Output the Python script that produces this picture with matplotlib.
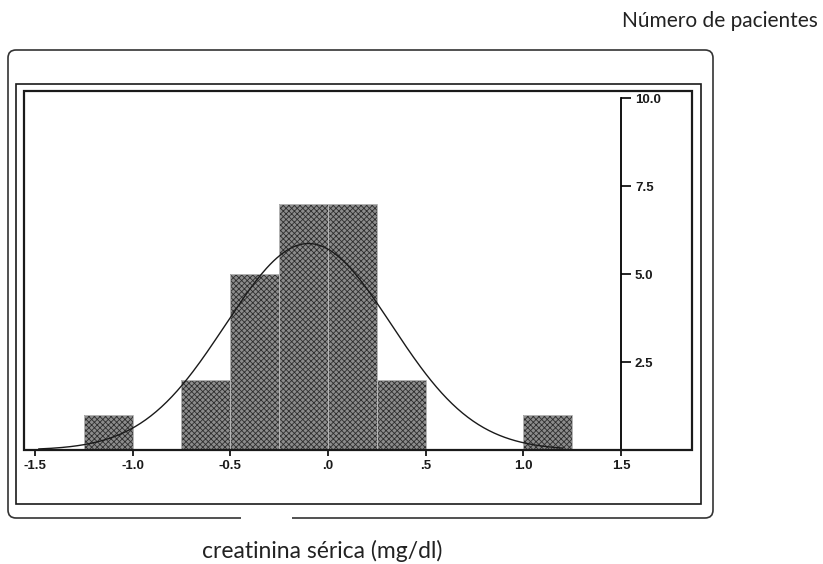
import matplotlib.pyplot as plt
import numpy as np
from matplotlib.patches import Rectangle, FancyBboxPatch

# histogram bins (creatinina serica, mg/dl) and patient counts
bin_left = [-1.25, -0.75, -0.5, -0.25, 0.0, 0.25, 1.0]
counts = [1, 2, 5, 7, 7, 2, 1]
bin_width = 0.25

# fitted normal curve
fit_mean = -0.1
fit_sd = 0.425
n_total = sum(counts)

x_ticks = [-1.5, -1.0, -0.5, 0.0, 0.5, 1.0, 1.5]
x_ticklabels = ['-1.5', '-1.0', '-0.5', '.0', '.5', '1.0', '1.5']
y_ticks = [2.5, 5.0, 7.5, 10.0]
y_ticklabels = ['2.5', '5.0', '7.5', '10.0']

W, H = 823, 564
fig = plt.figure(figsize=(W / 100, H / 100), dpi=100)
fig.patch.set_facecolor('white')

def px(x, y):
    # pixel coords (top-left origin) -> inches for dpi_scale_trans
    return x / 100, (H - y) / 100

# plot area: x 24-692 px, y 91-450 px
ax = fig.add_axes([24 / W, 1 - 450 / H, (692 - 24) / W, (450 - 91) / H])
ax.set_xlim(-1.556, 1.863)
ax.set_ylim(0, 10.2)

plt.rcParams['hatch.linewidth'] = 0.6
ax.bar(bin_left, counts, width=bin_width, align='edge',
       facecolor='#8c8c8c', edgecolor='#2e2e2e', hatch='xxxxxx', linewidth=0, zorder=2)
ax.bar(bin_left, counts, width=bin_width, align='edge',
       facecolor='none', edgecolor='#b5b5b5', linewidth=0.7, zorder=3)

xs = np.linspace(-1.48, 1.2, 300)
ys = n_total * bin_width / (fit_sd * np.sqrt(2 * np.pi)) * np.exp(-(xs - fit_mean) ** 2 / (2 * fit_sd ** 2))
ax.plot(xs, ys, color='#1a1a1a', linewidth=1.0, zorder=4)

for s in ['top', 'left']:
    ax.spines[s].set_visible(False)
ax.spines['bottom'].set_linewidth(1.3)
ax.spines['right'].set_position(('data', 1.5))
ax.spines['right'].set_bounds(0, 10)
ax.spines['right'].set_linewidth(1.3)

tick_font = dict(fontsize=9.5, fontweight='bold', family='Liberation Sans', color='#1a1a1a')
ax.set_xticks(x_ticks)
ax.set_xticklabels(x_ticklabels, **tick_font)
ax.tick_params(axis='x', direction='out', length=4, width=1.2, pad=3)

ax.yaxis.tick_right()
ax.set_yticks(y_ticks)
ax.set_yticklabels(y_ticklabels, **tick_font)
ax.tick_params(axis='y', direction='out', length=7, width=1.2, pad=3)

# frames around the chart
ax_rect = Rectangle(px(24, 450), 668 / 100, 359 / 100, transform=fig.dpi_scale_trans,
                    fill=False, edgecolor='#1a1a1a', linewidth=1.6)
mid_rect = Rectangle(px(16, 504), 685 / 100, 420 / 100, transform=fig.dpi_scale_trans,
                     fill=False, edgecolor='#1a1a1a', linewidth=1.2)
outer = FancyBboxPatch(px(8, 518), 705 / 100, 468 / 100, transform=fig.dpi_scale_trans,
                       boxstyle='round,pad=0,rounding_size=0.08',
                       fill=False, edgecolor='#333333', linewidth=1.2)
for p in [ax_rect, mid_rect, outer]:
    fig.patches.append(p)

# scan blank over the outer frame bottom
fig.patches.append(Rectangle(px(241, 523), 51 / 100, 10 / 100,
                             transform=fig.dpi_scale_trans, facecolor='white',
                             edgecolor='none', zorder=10))

fig.text(818 / W, 1 - 21 / H, 'Número de pacientes', ha='right', va='center',
         fontsize=15, family='Lato', color='#222222')
fig.text(322 / W, 1 - 551 / H, 'creatinina sérica (mg/dl)', ha='center', va='center',
         fontsize=16.5, family='Lato', color='#222222')

fig.savefig('out.png', dpi=100)
